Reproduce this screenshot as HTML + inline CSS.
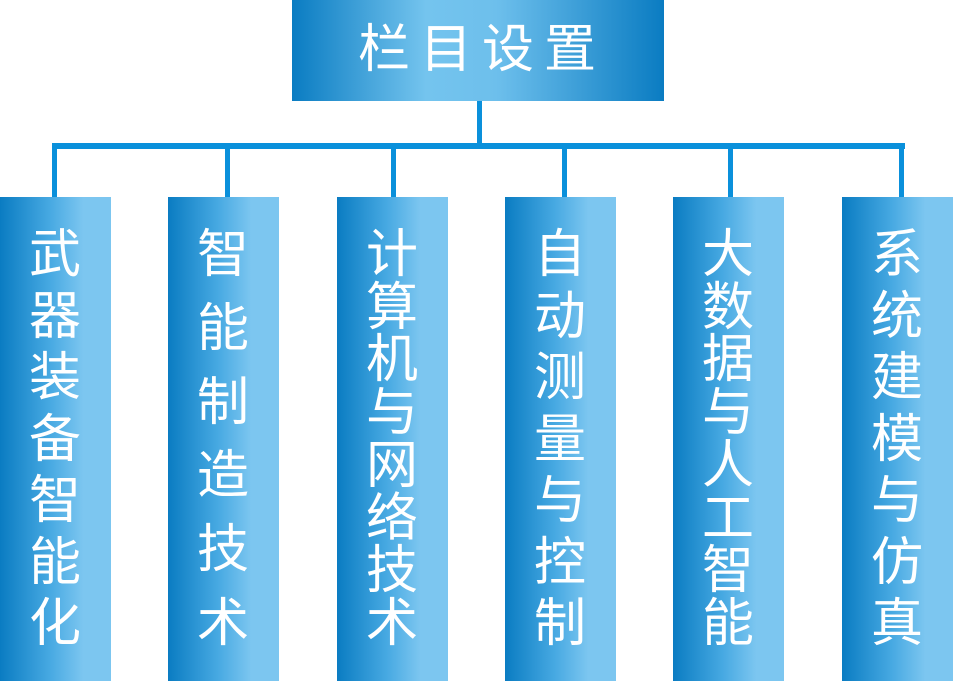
<!DOCTYPE html>
<html><head><meta charset="utf-8"><style>
body{margin:0;width:953px;height:681px;background:#fff;position:relative;overflow:hidden;font-family:"Liberation Sans","Noto Sans CJK SC",sans-serif;}
.topbox{position:absolute;left:292px;top:0;width:372px;height:101px;background:linear-gradient(90deg,#0a7cc2 0%,#74c4ee 36%,#6dbfec 55%,#0a7cc2 100%);}
.t{position:absolute;color:#fff;font-size:52px;line-height:52px;width:56px;text-align:center;margin-left:-2px;margin-top:-2px;}
.col{position:absolute;top:197px;height:484px;width:111px;background:linear-gradient(90deg,#0a7cc2 0%,#47a9e2 45%,#7cc6f0 75%,#7cc6f0 100%);}
.ln{position:absolute;background:#0a90db;}
</style></head><body>
<div class="topbox"></div>
<div class="ln" style="left:477px;top:101px;width:5px;height:47px"></div>
<div class="ln" style="left:52px;top:143px;width:853px;height:6px"></div>
<div class="ln" style="left:52px;top:143px;width:5px;height:54px"></div>
<div class="ln" style="left:225px;top:143px;width:5px;height:54px"></div>
<div class="ln" style="left:391px;top:143px;width:5px;height:54px"></div>
<div class="ln" style="left:562px;top:143px;width:5px;height:54px"></div>
<div class="ln" style="left:728px;top:143px;width:5px;height:54px"></div>
<div class="ln" style="left:899px;top:143px;width:5px;height:54px"></div>
<div class="col" style="left:0"></div>
<div class="col" style="left:168px"></div>
<div class="col" style="left:337px"></div>
<div class="col" style="left:505px"></div>
<div class="col" style="left:673px"></div>
<div class="col" style="left:842px"></div>

<div class="t" style="left:358px;top:26px">栏</div>
<div class="t" style="left:420px;top:26px">目</div>
<div class="t" style="left:482px;top:26px">设</div>
<div class="t" style="left:544px;top:26px">置</div>

<div class="t" style="left:29px;top:231px">武</div>
<div class="t" style="left:29px;top:293px">器</div>
<div class="t" style="left:29px;top:354px">装</div>
<div class="t" style="left:29px;top:416px">备</div>
<div class="t" style="left:29px;top:477px">智</div>
<div class="t" style="left:29px;top:539px">能</div>
<div class="t" style="left:29px;top:600px">化</div>

<div class="t" style="left:197px;top:231px">智</div>
<div class="t" style="left:197px;top:305px">能</div>
<div class="t" style="left:197px;top:379px">制</div>
<div class="t" style="left:197px;top:452px">造</div>
<div class="t" style="left:197px;top:526px">技</div>
<div class="t" style="left:197px;top:600px">术</div>

<div class="t" style="left:366px;top:231px">计</div>
<div class="t" style="left:366px;top:284px">算</div>
<div class="t" style="left:366px;top:336px">机</div>
<div class="t" style="left:366px;top:389px">与</div>
<div class="t" style="left:366px;top:442px">网</div>
<div class="t" style="left:366px;top:495px">络</div>
<div class="t" style="left:366px;top:547px">技</div>
<div class="t" style="left:366px;top:600px">术</div>

<div class="t" style="left:534px;top:231px">自</div>
<div class="t" style="left:534px;top:293px">动</div>
<div class="t" style="left:534px;top:354px">测</div>
<div class="t" style="left:534px;top:416px">量</div>
<div class="t" style="left:534px;top:477px">与</div>
<div class="t" style="left:534px;top:539px">控</div>
<div class="t" style="left:534px;top:600px">制</div>

<div class="t" style="left:702px;top:231px">大</div>
<div class="t" style="left:702px;top:284px">数</div>
<div class="t" style="left:702px;top:336px">据</div>
<div class="t" style="left:702px;top:389px">与</div>
<div class="t" style="left:702px;top:442px">人</div>
<div class="t" style="left:702px;top:495px">工</div>
<div class="t" style="left:702px;top:547px">智</div>
<div class="t" style="left:702px;top:600px">能</div>

<div class="t" style="left:871px;top:231px">系</div>
<div class="t" style="left:871px;top:293px">统</div>
<div class="t" style="left:871px;top:354px">建</div>
<div class="t" style="left:871px;top:416px">模</div>
<div class="t" style="left:871px;top:477px">与</div>
<div class="t" style="left:871px;top:539px">仿</div>
<div class="t" style="left:871px;top:600px">真</div>
</body></html>
